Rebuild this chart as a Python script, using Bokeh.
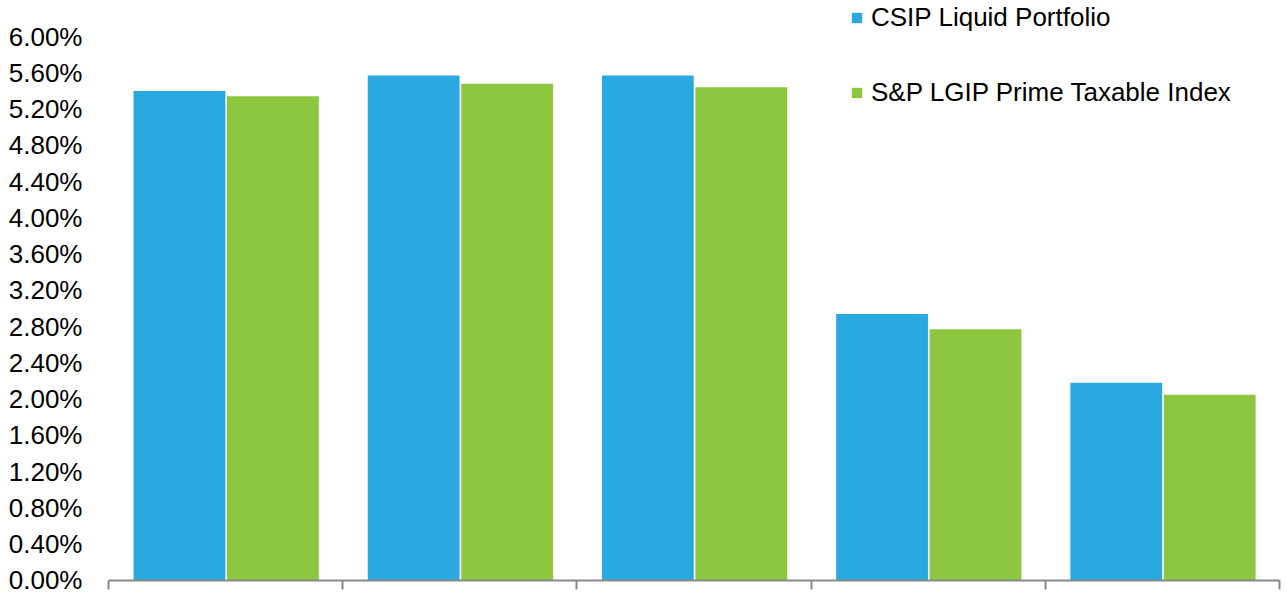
from bokeh.plotting import figure
from bokeh.models import ColumnDataSource, Legend, LegendItem, FixedTicker, NumeralTickFormatter, Range1d
from bokeh.embed import file_html
from bokeh.resources import INLINE

groups = [0, 1, 2, 3, 4]
csip = [0.0540, 0.0557, 0.0557, 0.0294, 0.0218]
sp_lgip = [0.0534, 0.0548, 0.0544, 0.0277, 0.0205]
series_names = ["CSIP Liquid Portfolio", "S&P LGIP Prime Taxable Index"]
colors = ["#29A9E0", "#8DC63F"]
y_ticks = [i * 0.004 for i in range(16)]

FONT = "Liberation Sans"

p = figure(width=1287, height=594, output_backend="svg", toolbar_location=None,
           x_range=Range1d(0, 5), y_range=Range1d(0, 0.06 * 580 / 544),
           min_border_left=108, min_border_right=8, min_border_top=0, min_border_bottom=14)
p.outline_line_color = None
p.grid.visible = False
p.background_fill_color = "white"

src_a = ColumnDataSource(dict(x=[g + 0.303 for g in groups], top=csip))
src_b = ColumnDataSource(dict(x=[g + 0.702 for g in groups], top=sp_lgip))
r1 = p.vbar(x="x", top="top", width=0.392, source=src_a, fill_color=colors[0], line_color=None)
r2 = p.vbar(x="x", top="top", width=0.392, source=src_b, fill_color=colors[1], line_color=None)

# y axis
p.yaxis.ticker = FixedTicker(ticks=y_ticks)
p.yaxis.formatter = NumeralTickFormatter(format="0.00%")
p.yaxis.axis_line_color = None
p.yaxis.major_tick_line_color = None
p.yaxis.minor_tick_line_color = None
p.yaxis.major_label_standoff = 20
p.yaxis.major_label_text_font = FONT
p.yaxis.major_label_text_font_size = "26px"
p.yaxis.major_label_text_color = "black"

# x axis
p.xaxis.ticker = FixedTicker(ticks=[0, 1, 2, 3, 4, 5])
p.xaxis.major_label_overrides = {i: "" for i in range(6)}
p.xaxis.major_label_text_font_size = "0px"
p.xaxis.major_label_standoff = 0
p.xaxis.axis_line_color = "#898989"
p.xaxis.axis_line_width = 2
p.xaxis.major_tick_line_color = "#898989"
p.xaxis.major_tick_line_width = 2
p.xaxis.major_tick_in = 0
p.xaxis.major_tick_out = 9
p.xaxis.minor_tick_line_color = None

legend = Legend(items=[LegendItem(label=series_names[0], renderers=[r1]),
                       LegendItem(label=series_names[1], renderers=[r2])],
                location=(742, 472), orientation="vertical",
                glyph_width=13, glyph_height=13, label_standoff=8,
                label_height=28, spacing=44, padding=0, margin=0,
                label_text_font=FONT, label_text_font_size="26px",
                label_text_color="black",
                border_line_color=None, background_fill_alpha=0)
p.add_layout(legend, "center")

open("out.html", "w").write(file_html(p, INLINE))
